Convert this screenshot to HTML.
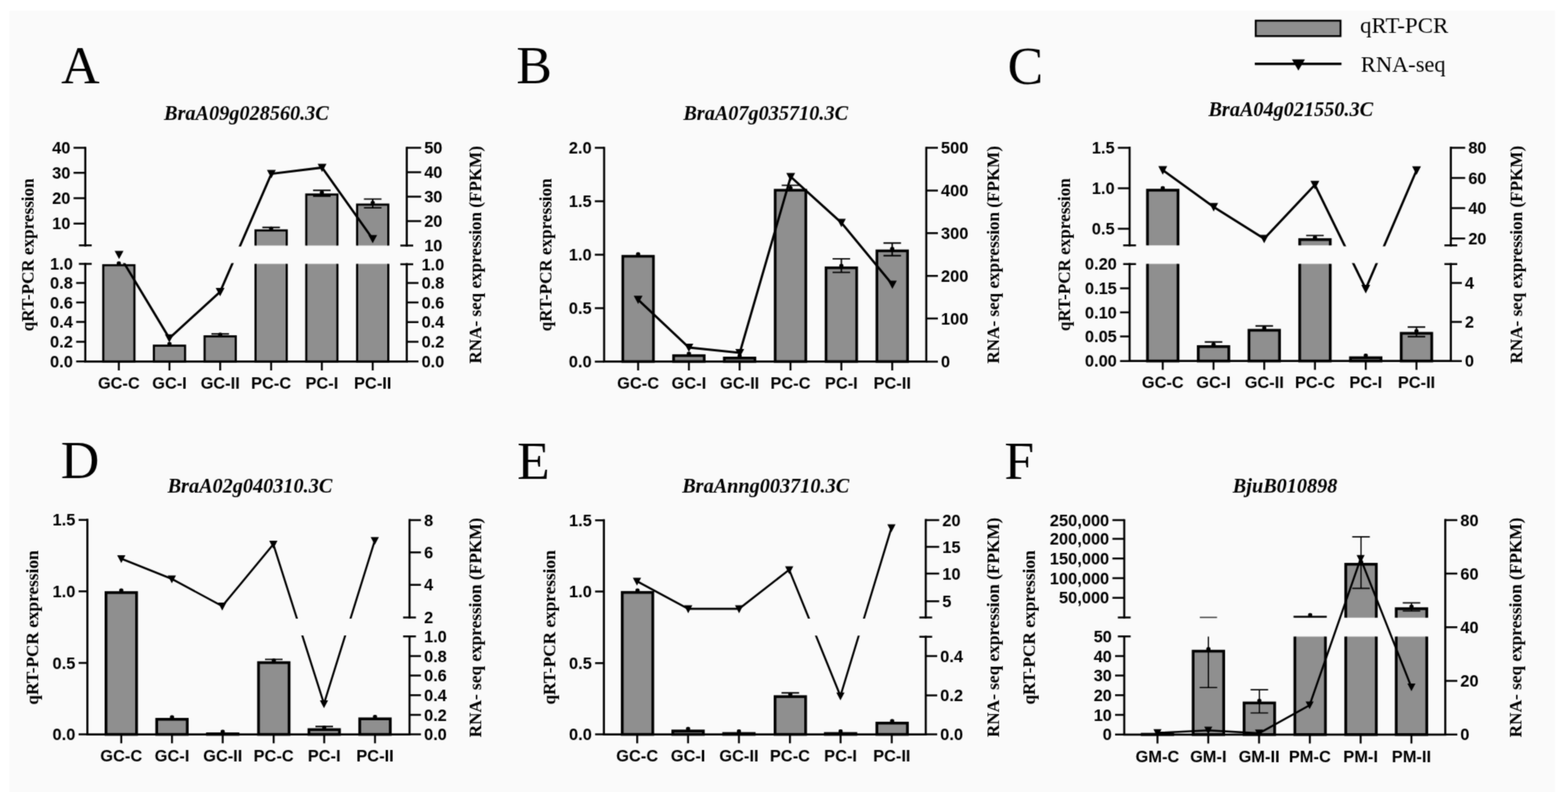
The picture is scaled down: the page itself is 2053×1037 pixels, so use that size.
<!DOCTYPE html><html><head><meta charset='utf-8'><title>Figure</title><style>html,body{margin:0;padding:0;background:#fff;overflow:hidden;}svg{display:block;}</style></head><body>
<div id='w'>
<svg width='2053' height='1037' viewBox='0 0 2053 1037'>
<defs><filter id='soft' x='0' y='0' width='2053' height='1037' filterUnits='userSpaceOnUse' color-interpolation-filters='sRGB'><feConvolveMatrix order='3' kernelMatrix='1 2 1 2 12 2 1 2 1' divisor='24' edgeMode='duplicate' preserveAlpha='true'/></filter></defs><g filter='url(#soft)'>
<rect x='0' y='0' width='2053' height='1037' fill='#fff'/>
<rect x='12.5' y='14' width='2023.5' height='1023' fill='#fafafa'/>
<clipPath id='b0'><rect x='0' y='0' width='2053' height='321.4'/><rect x='0' y='345.5' width='2053' height='691.5'/></clipPath>
<clipPath id='l0'><rect x='0' y='0' width='2053' height='322.7'/><rect x='0' y='344.4' width='2053' height='692.6'/></clipPath>
<g fill='#8f8f8f' stroke='#000' stroke-width='2.8' clip-path='url(#b0)'><rect x='135.2' y='347.2' width='40.8' height='126.1'/><rect x='201.5' y='452.6' width='40.8' height='20.7'/><rect x='267.9' y='440.4' width='40.8' height='32.9'/><rect x='334.6' y='301.7' width='40.8' height='171.6'/><rect x='401' y='254.7' width='40.8' height='218.6'/><rect x='467.6' y='267.9' width='40.8' height='205.4'/></g>
<path d='M276.8,437.3H299.8M288.3,437.3V440M343.5,297.8H366.5M355,297.8V302M409.9,249.3H432.9M409.9,256.8H432.9M421.4,249.3V256.8M476.5,260.6H499.5M476.5,272.1H499.5M488,260.6V272.1' fill='none' stroke='#000' stroke-width='1.9' clip-path='url(#b0)'/>
<g fill='#000'><rect x='152.9' y='342.3' width='5.4' height='5' rx='2'/><rect x='219.2' y='447.7' width='5.4' height='5' rx='2'/><rect x='285.6' y='435.5' width='5.4' height='5' rx='2'/><rect x='352.3' y='296.8' width='5.4' height='5' rx='2'/><rect x='418.7' y='249.8' width='5.4' height='5' rx='2'/><rect x='485.3' y='263' width='5.4' height='5' rx='2'/></g>
<path d='M111.7,193.6V321.3M111.7,345.6V473.3M532.6,193.6V321.6M532.6,345.9V473.3M111.7,473.3H532.6' fill='none' stroke='#000' stroke-width='2.7' stroke-linecap='square'/>
<path d='M103.3,321.3H120.1M103.3,345.6H120.1M524.2,321.6H541M524.2,345.9H541M96.3,193.6H111.7M96.3,226.3H111.7M96.3,259.5H111.7M96.3,292.7H111.7M99.7,370.5H111.7M99.7,396.1H111.7M99.7,421.6H111.7M99.7,447.4H111.7M99.7,473.3H111.7M532.6,193.6H551.4M532.6,225.5H551.4M532.6,257.5H551.4M532.6,289.4H551.4M532.6,370.4H547.9M532.6,396.1H547.9M532.6,421.7H547.9M532.6,447.4H547.9M532.6,473.3H547.9M155.6,473.3V484.9M221.9,473.3V484.9M288.3,473.3V484.9M355,473.3V484.9M421.4,473.3V484.9M488,473.3V484.9' fill='none' stroke='#000' stroke-width='2.5'/>
<path d='M155.9,333.5L221.7,442.8L288.2,382.1L355.3,227.6L421.7,219.4L488,312.8' fill='none' stroke='#000' stroke-width='3' stroke-linejoin='miter' clip-path='url(#l0)'/>
<path d='M150.1,328.5L161.7,328.5L155.9,339.3ZM215.9,437.8L227.5,437.8L221.7,448.6ZM282.4,377.1L294,377.1L288.2,387.9ZM349.5,222.6L361.1,222.6L355.3,233.4ZM415.9,214.4L427.5,214.4L421.7,225.2ZM482.2,307.8L493.8,307.8L488,318.6Z' fill='#000'/>
<g font-family="'Liberation Sans', Arial, sans-serif" font-weight='bold' font-size='21.5' fill='#000'><text transform='translate(92.1,201.2) scale(1,1.03)' text-anchor='end'>40</text><text transform='translate(92.1,233.9) scale(1,1.03)' text-anchor='end'>30</text><text transform='translate(92.1,267.1) scale(1,1.03)' text-anchor='end'>20</text><text transform='translate(92.1,300.3) scale(1,1.03)' text-anchor='end'>10</text><text transform='translate(95.5,353.2) scale(1,1.03)' text-anchor='end'>1.0</text><text transform='translate(95.5,378.1) scale(1,1.03)' text-anchor='end'>0.8</text><text transform='translate(95.5,403.7) scale(1,1.03)' text-anchor='end'>0.6</text><text transform='translate(95.5,429.2) scale(1,1.03)' text-anchor='end'>0.4</text><text transform='translate(95.5,455) scale(1,1.03)' text-anchor='end'>0.2</text><text transform='translate(95.5,480.9) scale(1,1.03)' text-anchor='end'>0.0</text><text transform='translate(555.4,201.2) scale(1,1.03)'>50</text><text transform='translate(555.4,233.1) scale(1,1.03)'>40</text><text transform='translate(555.4,265.1) scale(1,1.03)'>30</text><text transform='translate(555.4,297) scale(1,1.03)'>20</text><text transform='translate(555.4,329.2) scale(1,1.03)'>10</text><text transform='translate(551.9,353.5) scale(1,1.03)'>1.0</text><text transform='translate(551.9,378) scale(1,1.03)'>0.8</text><text transform='translate(551.9,403.7) scale(1,1.03)'>0.6</text><text transform='translate(551.9,429.3) scale(1,1.03)'>0.4</text><text transform='translate(551.9,455) scale(1,1.03)'>0.2</text><text transform='translate(551.9,480.9) scale(1,1.03)'>0.0</text></g>
<g font-family="'Liberation Sans', Arial, sans-serif" font-weight='bold' font-size='21.5' fill='#000'><text transform='translate(155.6,509) scale(1,1.03)' text-anchor='middle'>GC-C</text><text transform='translate(221.9,509) scale(1,1.03)' text-anchor='middle'>GC-I</text><text transform='translate(288.3,509) scale(1,1.03)' text-anchor='middle'>GC-II</text><text transform='translate(355,509) scale(1,1.03)' text-anchor='middle'>PC-C</text><text transform='translate(421.4,509) scale(1,1.03)' text-anchor='middle'>PC-I</text><text transform='translate(488,509) scale(1,1.03)' text-anchor='middle'>PC-II</text></g>
<text transform='translate(44.3,333.6) rotate(-90)' text-anchor='middle' font-family="'Liberation Serif', 'Times New Roman', serif" font-weight='bold' font-size='22.4'>qRT-PCR expression</text>
<text transform='translate(630,333.6) rotate(-90)' text-anchor='middle' font-family="'Liberation Serif', 'Times New Roman', serif" font-weight='bold' font-size='22.4'>RNA- seq expression (FPKM)</text>
<text x='322.7' y='157' text-anchor='middle' font-family="'Liberation Serif', 'Times New Roman', serif" font-weight='bold' font-style='italic' font-size='26.5'>BraA09g028560.3C</text>
<text x='80.1' y='109' font-family="'Liberation Serif', 'Times New Roman', serif" font-size='70'>A</text>
<g fill='#8f8f8f' stroke='#000' stroke-width='3.5'><rect x='815.45' y='335.55' width='40.1' height='137.85'/><rect x='881.95' y='465.65' width='40.1' height='7.75'/><rect x='948.35' y='468.75' width='40.1' height='4.65'/><rect x='1014.95' y='249.05' width='40.1' height='224.35'/><rect x='1081.55' y='350.65' width='40.1' height='122.75'/><rect x='1148.15' y='328.45' width='40.1' height='144.95'/></g>
<path d='M1023.5,242.6H1046.5M1035,242.6V248M1090.1,338.9H1113.1M1090.1,356.6H1113.1M1101.6,338.9V356.6M1156.7,318.2H1179.7M1156.7,334.7H1179.7M1168.2,318.2V334.7' fill='none' stroke='#000' stroke-width='1.9'/>
<g fill='#000'><rect x='832.8' y='330.3' width='5.4' height='5' rx='2'/><rect x='899.3' y='460.4' width='5.4' height='5' rx='2'/><rect x='965.7' y='463.5' width='5.4' height='5' rx='2'/><rect x='1032.3' y='243.8' width='5.4' height='5' rx='2'/><rect x='1098.9' y='345.4' width='5.4' height='5' rx='2'/><rect x='1165.5' y='323.2' width='5.4' height='5' rx='2'/></g>
<path d='M791,193.6V473.4M1212.8,193.6V473.4M791,473.4H1212.8' fill='none' stroke='#000' stroke-width='2.7' stroke-linecap='square'/>
<path d='M778.8,193.6H791M778.8,263.5H791M778.8,333.5H791M778.8,403.4H791M778.8,473.4H791M1212.8,193.6H1228M1212.8,249.4H1228M1212.8,305.3H1228M1212.8,361.2H1228M1212.8,417.1H1228M1212.8,473.4H1228M835.5,473.4V485M902,473.4V485M968.4,473.4V485M1035,473.4V485M1101.6,473.4V485M1168.2,473.4V485' fill='none' stroke='#000' stroke-width='2.5'/>
<path d='M835.5,392.3L902,455L968.6,462L1035.3,231.5L1101.6,291.6L1168.4,372.5' fill='none' stroke='#000' stroke-width='3' stroke-linejoin='miter'/>
<path d='M829.7,387.3L841.3,387.3L835.5,398.1ZM896.2,450L907.8,450L902,460.8ZM962.8,457L974.4,457L968.6,467.8ZM1029.5,226.5L1041.1,226.5L1035.3,237.3ZM1095.8,286.6L1107.4,286.6L1101.6,297.4ZM1162.6,367.5L1174.2,367.5L1168.4,378.3Z' fill='#000'/>
<g font-family="'Liberation Sans', Arial, sans-serif" font-weight='bold' font-size='21.5' fill='#000'><text transform='translate(774.6,201.2) scale(1,1.03)' text-anchor='end'>2.0</text><text transform='translate(774.6,271.1) scale(1,1.03)' text-anchor='end'>1.5</text><text transform='translate(774.6,341.1) scale(1,1.03)' text-anchor='end'>1.0</text><text transform='translate(774.6,411) scale(1,1.03)' text-anchor='end'>0.5</text><text transform='translate(774.6,481) scale(1,1.03)' text-anchor='end'>0.0</text><text transform='translate(1232,201.2) scale(1,1.03)'>500</text><text transform='translate(1232,257) scale(1,1.03)'>400</text><text transform='translate(1232,312.9) scale(1,1.03)'>300</text><text transform='translate(1232,368.8) scale(1,1.03)'>200</text><text transform='translate(1232,424.7) scale(1,1.03)'>100</text><text transform='translate(1232,481) scale(1,1.03)'>0</text></g>
<g font-family="'Liberation Sans', Arial, sans-serif" font-weight='bold' font-size='21.5' fill='#000'><text transform='translate(835.5,509.1) scale(1,1.03)' text-anchor='middle'>GC-C</text><text transform='translate(902,509.1) scale(1,1.03)' text-anchor='middle'>GC-I</text><text transform='translate(968.4,509.1) scale(1,1.03)' text-anchor='middle'>GC-II</text><text transform='translate(1035,509.1) scale(1,1.03)' text-anchor='middle'>PC-C</text><text transform='translate(1101.6,509.1) scale(1,1.03)' text-anchor='middle'>PC-I</text><text transform='translate(1168.2,509.1) scale(1,1.03)' text-anchor='middle'>PC-II</text></g>
<text transform='translate(722.3,333.6) rotate(-90)' text-anchor='middle' font-family="'Liberation Serif', 'Times New Roman', serif" font-weight='bold' font-size='22.4'>qRT-PCR expression</text>
<text transform='translate(1308.2,333.6) rotate(-90)' text-anchor='middle' font-family="'Liberation Serif', 'Times New Roman', serif" font-weight='bold' font-size='22.4'>RNA- seq expression (FPKM)</text>
<text x='1002.5' y='156.5' text-anchor='middle' font-family="'Liberation Serif', 'Times New Roman', serif" font-weight='bold' font-style='italic' font-size='26.5'>BraA07g035710.3C</text>
<text x='676' y='108.5' font-family="'Liberation Serif', 'Times New Roman', serif" font-size='70'>B</text>
<clipPath id='b2'><rect x='0' y='0' width='2053' height='321.3'/><rect x='0' y='345.6' width='2053' height='691.4'/></clipPath>
<clipPath id='l2'><rect x='0' y='0' width='2053' height='322.6'/><rect x='0' y='344.5' width='2053' height='692.5'/></clipPath>
<g fill='#8f8f8f' stroke='#000' stroke-width='3.6' clip-path='url(#b2)'><rect x='1502.4' y='249' width='40' height='223.7'/><rect x='1568.9' y='453.8' width='40' height='18.9'/><rect x='1635.3' y='432.4' width='40' height='40.3'/><rect x='1701.7' y='313.7' width='40' height='159'/><rect x='1768.2' y='468.4' width='40' height='4.3'/><rect x='1834.6' y='436.4' width='40' height='36.3'/></g>
<path d='M1577.4,447.8H1600.4M1588.9,447.8V453M1643.8,426.8H1666.8M1655.3,426.8V431M1710.2,308.4H1733.2M1721.7,308.4V313M1843.1,428.2H1866.1M1843.1,440.7H1866.1M1854.6,428.2V440.7' fill='none' stroke='#000' stroke-width='1.9' clip-path='url(#b2)'/>
<g fill='#000'><rect x='1519.7' y='243.7' width='5.4' height='5' rx='2'/><rect x='1586.2' y='448.5' width='5.4' height='5' rx='2'/><rect x='1652.6' y='427.1' width='5.4' height='5' rx='2'/><rect x='1719' y='308.4' width='5.4' height='5' rx='2'/><rect x='1785.5' y='463.1' width='5.4' height='5' rx='2'/><rect x='1851.9' y='431.1' width='5.4' height='5' rx='2'/></g>
<path d='M1479,193.4V321.2M1479,345.8V472.7M1899.6,193.4V321.2M1899.6,345.8V472.7M1479,472.7H1899.6' fill='none' stroke='#000' stroke-width='2.7' stroke-linecap='square'/>
<path d='M1470.6,321.2H1487.4M1470.6,345.8H1487.4M1891.2,321.2H1908M1891.2,345.8H1908M1463.6,193.4H1479M1463.6,246.6H1479M1463.6,299.5H1479M1466.5,377.4H1479M1466.5,409H1479M1466.5,440.6H1479M1466.5,472.7H1479M1899.6,193.4H1918.4M1899.6,233H1918.4M1899.6,272.6H1918.4M1899.6,312.2H1918.4M1899.6,370.6H1914M1899.6,421.6H1914M1899.6,472.7H1914M1522.4,472.7V484.3M1588.9,472.7V484.3M1655.3,472.7V484.3M1721.7,472.7V484.3M1788.2,472.7V484.3M1854.6,472.7V484.3' fill='none' stroke='#000' stroke-width='2.5'/>
<path d='M1522.4,222.8L1589.1,270.9L1655.2,312.6L1721.6,242L1788.2,378.2L1854.7,223' fill='none' stroke='#000' stroke-width='3' stroke-linejoin='miter' clip-path='url(#l2)'/>
<path d='M1516.6,217.6L1528.2,217.6L1522.4,228.8ZM1583.3,265.7L1594.9,265.7L1589.1,276.9ZM1649.4,307.4L1661,307.4L1655.2,318.6ZM1715.8,236.8L1727.4,236.8L1721.6,248ZM1782.4,373L1794,373L1788.2,384.2ZM1848.9,217.8L1860.5,217.8L1854.7,229Z' fill='#000'/>
<g font-family="'Liberation Sans', Arial, sans-serif" font-weight='bold' font-size='21.5' fill='#000'><text transform='translate(1459.4,201) scale(1,1.03)' text-anchor='end'>1.5</text><text transform='translate(1459.4,254.2) scale(1,1.03)' text-anchor='end'>1.0</text><text transform='translate(1459.4,307.1) scale(1,1.03)' text-anchor='end'>0.5</text><text transform='translate(1462.3,353.4) scale(1,1.03)' text-anchor='end'>0.20</text><text transform='translate(1462.3,385) scale(1,1.03)' text-anchor='end'>0.15</text><text transform='translate(1462.3,416.6) scale(1,1.03)' text-anchor='end'>0.10</text><text transform='translate(1462.3,448.2) scale(1,1.03)' text-anchor='end'>0.05</text><text transform='translate(1462.3,480.3) scale(1,1.03)' text-anchor='end'>0.00</text><text transform='translate(1922.4,201) scale(1,1.03)'>80</text><text transform='translate(1922.4,240.6) scale(1,1.03)'>60</text><text transform='translate(1922.4,280.2) scale(1,1.03)'>40</text><text transform='translate(1922.4,319.8) scale(1,1.03)'>20</text><text transform='translate(1918,378.2) scale(1,1.03)'>4</text><text transform='translate(1918,429.2) scale(1,1.03)'>2</text><text transform='translate(1918,480.3) scale(1,1.03)'>0</text></g>
<g font-family="'Liberation Sans', Arial, sans-serif" font-weight='bold' font-size='21.5' fill='#000'><text transform='translate(1522.4,508.4) scale(1,1.03)' text-anchor='middle'>GC-C</text><text transform='translate(1588.9,508.4) scale(1,1.03)' text-anchor='middle'>GC-I</text><text transform='translate(1655.3,508.4) scale(1,1.03)' text-anchor='middle'>GC-II</text><text transform='translate(1721.7,508.4) scale(1,1.03)' text-anchor='middle'>PC-C</text><text transform='translate(1788.2,508.4) scale(1,1.03)' text-anchor='middle'>PC-I</text><text transform='translate(1854.6,508.4) scale(1,1.03)' text-anchor='middle'>PC-II</text></g>
<text transform='translate(1400.6,333.4) rotate(-90)' text-anchor='middle' font-family="'Liberation Serif', 'Times New Roman', serif" font-weight='bold' font-size='22.4'>qRT-PCR expression</text>
<text transform='translate(1993,333.4) rotate(-90)' text-anchor='middle' font-family="'Liberation Serif', 'Times New Roman', serif" font-weight='bold' font-size='22.4'>RNA- seq expression (FPKM)</text>
<text x='1690' y='151.6' text-anchor='middle' font-family="'Liberation Serif', 'Times New Roman', serif" font-weight='bold' font-style='italic' font-size='26.5'>BraA04g021550.3C</text>
<text x='1319.2' y='109.5' font-family="'Liberation Serif', 'Times New Roman', serif" font-size='70'>C</text>
<clipPath id='l3'><rect x='0' y='0' width='2053' height='810'/><rect x='0' y='832' width='2053' height='205'/></clipPath>
<g fill='#8f8f8f' stroke='#000' stroke-width='3.6'><rect x='138.8' y='775.9' width='40' height='185.7'/><rect x='205.2' y='941.8' width='40' height='19.8'/><rect x='271.6' y='960.8' width='40' height='0.8'/><rect x='338.5' y='867.6' width='40' height='94'/><rect x='404.5' y='955.3' width='40' height='6.3'/><rect x='471' y='941.2' width='40' height='20.4'/></g>
<path d='M158.8,771.4V776M225.2,937.2V941M291.6,957V960M347,863.4H370M358.5,863.4V867M413,951.2H436M424.5,951.2V955' fill='none' stroke='#000' stroke-width='1.9'/>
<g fill='#000'><rect x='156.1' y='770.6' width='5.4' height='5' rx='2'/><rect x='222.5' y='936.5' width='5.4' height='5' rx='2'/><rect x='288.9' y='955.5' width='5.4' height='5' rx='2'/><rect x='355.8' y='862.3' width='5.4' height='5' rx='2'/><rect x='421.8' y='950' width='5.4' height='5' rx='2'/><rect x='488.3' y='935.9' width='5.4' height='5' rx='2'/></g>
<path d='M114.4,680.7V961.6M536.2,680.9V808.4M536.2,833.3V961.6M114.4,961.6H536.2' fill='none' stroke='#000' stroke-width='2.7' stroke-linecap='square'/>
<path d='M527.8,808.4H544.6M527.8,833.3H544.6M102.9,680.7H114.4M102.9,774.3H114.4M102.9,868H114.4M102.9,961.6H114.4M536.2,680.9H551.2M536.2,723.3H551.2M536.2,765.7H551.2M536.2,858.9H551.2M536.2,884.6H551.2M536.2,910.3H551.2M536.2,935.9H551.2M536.2,961.6H551.2M158.8,961.6V973.2M225.2,961.6V973.2M291.6,961.6V973.2M358.3,961.6V973.2M424.5,961.6V973.2M491,961.6V973.2' fill='none' stroke='#000' stroke-width='2.5'/>
<path d='M158.8,731.5L225,758L291,793.7L357.9,712.7L424.2,921.5L490.7,707.8' fill='none' stroke='#000' stroke-width='2.6' stroke-linejoin='miter' clip-path='url(#l3)'/>
<path d='M153.4,726.9L164.2,726.9L158.8,737.3ZM219.6,753.4L230.4,753.4L225,763.8ZM285.6,789.1L296.4,789.1L291,799.5ZM352.5,708.1L363.3,708.1L357.9,718.5ZM418.8,916.9L429.6,916.9L424.2,927.3ZM485.3,703.2L496.1,703.2L490.7,713.6Z' fill='#000'/>
<g font-family="'Liberation Sans', Arial, sans-serif" font-weight='bold' font-size='21.5' fill='#000'><text transform='translate(98.7,688.3) scale(1,1.03)' text-anchor='end'>1.5</text><text transform='translate(98.7,781.9) scale(1,1.03)' text-anchor='end'>1.0</text><text transform='translate(98.7,875.6) scale(1,1.03)' text-anchor='end'>0.5</text><text transform='translate(98.7,969.2) scale(1,1.03)' text-anchor='end'>0.0</text><text transform='translate(555.2,688.5) scale(1,1.03)'>8</text><text transform='translate(555.2,730.9) scale(1,1.03)'>6</text><text transform='translate(555.2,773.3) scale(1,1.03)'>4</text><text transform='translate(555.2,816) scale(1,1.03)'>2</text><text transform='translate(555.2,840.9) scale(1,1.03)'>1.0</text><text transform='translate(555.2,866.5) scale(1,1.03)'>0.8</text><text transform='translate(555.2,892.2) scale(1,1.03)'>0.6</text><text transform='translate(555.2,917.9) scale(1,1.03)'>0.4</text><text transform='translate(555.2,943.5) scale(1,1.03)'>0.2</text><text transform='translate(555.2,969.2) scale(1,1.03)'>0.0</text></g>
<g font-family="'Liberation Sans', Arial, sans-serif" font-weight='bold' font-size='21.5' fill='#000'><text transform='translate(158.8,997.3) scale(1,1.03)' text-anchor='middle'>GC-C</text><text transform='translate(225.2,997.3) scale(1,1.03)' text-anchor='middle'>GC-I</text><text transform='translate(291.6,997.3) scale(1,1.03)' text-anchor='middle'>GC-II</text><text transform='translate(358.3,997.3) scale(1,1.03)' text-anchor='middle'>PC-C</text><text transform='translate(424.5,997.3) scale(1,1.03)' text-anchor='middle'>PC-I</text><text transform='translate(491,997.3) scale(1,1.03)' text-anchor='middle'>PC-II</text></g>
<text transform='translate(49.8,821.7) rotate(-90)' text-anchor='middle' font-family="'Liberation Serif', 'Times New Roman', serif" font-weight='bold' font-size='22.6'>qRT-PCR expression</text>
<text transform='translate(629.8,821.7) rotate(-90)' text-anchor='middle' font-family="'Liberation Serif', 'Times New Roman', serif" font-weight='bold' font-size='22.6'>RNA- seq expression (FPKM)</text>
<text x='327.3' y='644.8' text-anchor='middle' font-family="'Liberation Serif', 'Times New Roman', serif" font-weight='bold' font-style='italic' font-size='26.5'>BraA02g040310.3C</text>
<text x='79.6' y='626.3' font-family="'Liberation Serif', 'Times New Roman', serif" font-size='70'>D</text>
<clipPath id='l4'><rect x='0' y='0' width='2053' height='810.1'/><rect x='0' y='832.2' width='2053' height='204.8'/></clipPath>
<g fill='#8f8f8f' stroke='#000' stroke-width='3.6'><rect x='814.7' y='775.7' width='40' height='185.9'/><rect x='880.9' y='957.1' width='40' height='4.5'/><rect x='947.5' y='960.4' width='40' height='1.2'/><rect x='1014.8' y='912.1' width='40' height='49.5'/><rect x='1080.6' y='960.4' width='40' height='1.2'/><rect x='1148.1' y='946.8' width='40' height='14.8'/></g>
<path d='M1023.3,907.2H1046.3M1034.8,907.2V911' fill='none' stroke='#000' stroke-width='1.9'/>
<g fill='#000'><rect x='832' y='770.4' width='5.4' height='5' rx='2'/><rect x='898.2' y='951.8' width='5.4' height='5' rx='2'/><rect x='964.8' y='955.1' width='5.4' height='5' rx='2'/><rect x='1032.1' y='906.8' width='5.4' height='5' rx='2'/><rect x='1097.9' y='955.1' width='5.4' height='5' rx='2'/><rect x='1165.4' y='941.5' width='5.4' height='5' rx='2'/></g>
<path d='M790.7,681.2V961.6M1212.1,680.9V808.4M1212.1,833.8V961.6M790.7,961.6H1212.1' fill='none' stroke='#000' stroke-width='2.7' stroke-linecap='square'/>
<path d='M1203.7,808.4H1220.5M1203.7,833.8H1220.5M779.2,681.2H790.7M779.2,774.6H790.7M779.2,868.2H790.7M779.2,961.6H790.7M1212.1,680.9H1229.7M1212.1,715.9H1229.7M1212.1,751.1H1229.7M1212.1,787.3H1229.7M1212.1,859.1H1227.1M1212.1,910.5H1227.1M1212.1,961.6H1227.1M834.3,961.6V973.2M900.9,961.6V973.2M967.5,961.6V973.2M1034.3,961.6V973.2M1100.6,961.6V973.2M1167.6,961.6V973.2' fill='none' stroke='#000' stroke-width='2.5'/>
<path d='M834,761L901.1,797.1L967.7,797.1L1033.3,746L1100.4,911.3L1167.2,691' fill='none' stroke='#000' stroke-width='2.6' stroke-linejoin='miter' clip-path='url(#l4)'/>
<path d='M828.6,756.4L839.4,756.4L834,766.8ZM895.7,792.5L906.5,792.5L901.1,802.9ZM962.3,792.5L973.1,792.5L967.7,802.9ZM1027.9,741.4L1038.7,741.4L1033.3,751.8ZM1095,906.7L1105.8,906.7L1100.4,917.1ZM1161.8,686.4L1172.6,686.4L1167.2,696.8Z' fill='#000'/>
<g font-family="'Liberation Sans', Arial, sans-serif" font-weight='bold' font-size='21.5' fill='#000'><text transform='translate(775,688.8) scale(1,1.03)' text-anchor='end'>1.5</text><text transform='translate(775,782.2) scale(1,1.03)' text-anchor='end'>1.0</text><text transform='translate(775,875.8) scale(1,1.03)' text-anchor='end'>0.5</text><text transform='translate(775,969.2) scale(1,1.03)' text-anchor='end'>0.0</text><text transform='translate(1233.7,688.5) scale(1,1.03)'>20</text><text transform='translate(1233.7,723.5) scale(1,1.03)'>15</text><text transform='translate(1233.7,758.7) scale(1,1.03)'>10</text><text transform='translate(1233.7,794.9) scale(1,1.03)'>5</text><text transform='translate(1231.1,866.7) scale(1,1.03)'>0.4</text><text transform='translate(1231.1,918.1) scale(1,1.03)'>0.2</text><text transform='translate(1231.1,969.2) scale(1,1.03)'>0.0</text></g>
<g font-family="'Liberation Sans', Arial, sans-serif" font-weight='bold' font-size='21.5' fill='#000'><text transform='translate(834.3,997.3) scale(1,1.03)' text-anchor='middle'>GC-C</text><text transform='translate(900.9,997.3) scale(1,1.03)' text-anchor='middle'>GC-I</text><text transform='translate(967.5,997.3) scale(1,1.03)' text-anchor='middle'>GC-II</text><text transform='translate(1034.3,997.3) scale(1,1.03)' text-anchor='middle'>PC-C</text><text transform='translate(1100.6,997.3) scale(1,1.03)' text-anchor='middle'>PC-I</text><text transform='translate(1167.6,997.3) scale(1,1.03)' text-anchor='middle'>PC-II</text></g>
<text transform='translate(726.8,821.5) rotate(-90)' text-anchor='middle' font-family="'Liberation Serif', 'Times New Roman', serif" font-weight='bold' font-size='22.6'>qRT-PCR expression</text>
<text transform='translate(1308.4,821.5) rotate(-90)' text-anchor='middle' font-family="'Liberation Serif', 'Times New Roman', serif" font-weight='bold' font-size='22.6'>RNA- seq expression (FPKM)</text>
<text x='1002.5' y='644.8' text-anchor='middle' font-family="'Liberation Serif', 'Times New Roman', serif" font-weight='bold' font-style='italic' font-size='26.5'>BraAnng003710.3C</text>
<text x='677' y='627' font-family="'Liberation Serif', 'Times New Roman', serif" font-size='70'>E</text>
<clipPath id='b5'><rect x='0' y='0' width='2053' height='808.7'/><rect x='0' y='833.4' width='2053' height='203.6'/></clipPath>
<g fill='#8f8f8f' stroke='#000' stroke-width='3.6' clip-path='url(#b5)'><rect x='1495.5' y='961.4' width='40' height='0.4'/><rect x='1562.2' y='852.6' width='40' height='109.2'/><rect x='1628.9' y='920.4' width='40' height='41.4'/><rect x='1695.4' y='808.1' width='40' height='153.7'/><rect x='1762' y='738.8' width='40' height='223'/><rect x='1828.1' y='797' width='40' height='164.8'/></g>
<path d='M1570.7,900.2H1593.7M1582.2,820V900.2M1637.4,903.1H1660.4M1637.4,933.5H1660.4M1648.9,903.1V933.5M1715.4,803.5V808M1770.5,702.9H1793.5M1770.5,770.4H1793.5M1782,702.9V770.4M1836.6,789.4H1859.6M1836.6,800H1859.6M1848.1,789.4V800' fill='none' stroke='#000' stroke-width='1.6' clip-path='url(#b5)'/>
<g fill='#000'><rect x='1512.8' y='956.1' width='5.4' height='5' rx='2'/><rect x='1579.5' y='847.3' width='5.4' height='5' rx='2'/><rect x='1646.2' y='915.1' width='5.4' height='5' rx='2'/><rect x='1712.7' y='802.8' width='5.4' height='5' rx='2'/><rect x='1779.3' y='733.5' width='5.4' height='5' rx='2'/><rect x='1845.4' y='791.7' width='5.4' height='5' rx='2'/></g>
<path d='M1570.9,808.4H1593.5' stroke='#333' stroke-width='1.6'/>
<path d='M1472,681.1V808.5M1472,833.3V961.8M1892.3,680.9V961.8M1472,961.8H1892.3' fill='none' stroke='#000' stroke-width='2.7' stroke-linecap='square'/>
<path d='M1463.6,808.5H1480.4M1463.6,833.3H1480.4M1456.5,681.1H1472M1456.5,705.5H1472M1456.5,731.3H1472M1456.5,757H1472M1456.5,782.8H1472M1460,858.9H1472M1460,884.6H1472M1460,910.3H1472M1460,936H1472M1460,961.8H1472M1892.3,680.9H1908.1M1892.3,751.1H1908.1M1892.3,821.3H1908.1M1892.3,891.6H1908.1M1892.3,961.8H1908.1M1515.5,961.8V973.4M1582,961.8V973.4M1648.5,961.8V973.4M1715,961.8V973.4M1781.5,961.8V973.4M1848,961.8V973.4' fill='none' stroke='#000' stroke-width='2.5'/>
<path d='M1515.5,959.6L1582,956.3L1648.5,960.1L1714.7,923.3L1781.5,731.6L1848,899.7' fill='none' stroke='#000' stroke-width='2.6' stroke-linejoin='miter'/>
<path d='M1510.2,954.8L1520.8,954.8L1515.5,964.9ZM1576.7,951.5L1587.3,951.5L1582,961.6ZM1643.2,955.3L1653.8,955.3L1648.5,965.4ZM1709.4,918.5L1720,918.5L1714.7,928.6ZM1776.2,726.8L1786.8,726.8L1781.5,736.9ZM1842.7,894.9L1853.3,894.9L1848,905Z' fill='#000'/>
<g font-family="'Liberation Sans', Arial, sans-serif" font-weight='bold' font-size='21.5' fill='#000'><text transform='translate(1452.3,688.7) scale(1,1.03)' text-anchor='end'>250,000</text><text transform='translate(1452.3,713.1) scale(1,1.03)' text-anchor='end'>200,000</text><text transform='translate(1452.3,738.9) scale(1,1.03)' text-anchor='end'>150,000</text><text transform='translate(1452.3,764.6) scale(1,1.03)' text-anchor='end'>100,000</text><text transform='translate(1452.3,790.4) scale(1,1.03)' text-anchor='end'>50,000</text><text transform='translate(1455.8,840.9) scale(1,1.03)' text-anchor='end'>50</text><text transform='translate(1455.8,866.5) scale(1,1.03)' text-anchor='end'>40</text><text transform='translate(1455.8,892.2) scale(1,1.03)' text-anchor='end'>30</text><text transform='translate(1455.8,917.9) scale(1,1.03)' text-anchor='end'>20</text><text transform='translate(1455.8,943.6) scale(1,1.03)' text-anchor='end'>10</text><text transform='translate(1455.8,969.4) scale(1,1.03)' text-anchor='end'>0</text><text transform='translate(1912.1,688.5) scale(1,1.03)'>80</text><text transform='translate(1912.1,758.7) scale(1,1.03)'>60</text><text transform='translate(1912.1,828.9) scale(1,1.03)'>40</text><text transform='translate(1912.1,899.2) scale(1,1.03)'>20</text><text transform='translate(1912.1,969.4) scale(1,1.03)'>0</text></g>
<g font-family="'Liberation Sans', Arial, sans-serif" font-weight='bold' font-size='21.5' fill='#000'><text transform='translate(1515.5,997.5) scale(1,1.03)' text-anchor='middle'>GM-C</text><text transform='translate(1582,997.5) scale(1,1.03)' text-anchor='middle'>GM-I</text><text transform='translate(1648.5,997.5) scale(1,1.03)' text-anchor='middle'>GM-II</text><text transform='translate(1715,997.5) scale(1,1.03)' text-anchor='middle'>PM-C</text><text transform='translate(1781.5,997.5) scale(1,1.03)' text-anchor='middle'>PM-I</text><text transform='translate(1848,997.5) scale(1,1.03)' text-anchor='middle'>PM-II</text></g>
<text transform='translate(1355.1,821.65) rotate(-90)' text-anchor='middle' font-family="'Liberation Serif', 'Times New Roman', serif" font-weight='bold' font-size='22.6'>qRT-PCR expression</text>
<text transform='translate(1992.1,821.65) rotate(-90)' text-anchor='middle' font-family="'Liberation Serif', 'Times New Roman', serif" font-weight='bold' font-size='22.6'>RNA- seq expression (FPKM)</text>
<text x='1682.6' y='644.6' text-anchor='middle' font-family="'Liberation Serif', 'Times New Roman', serif" font-weight='bold' font-style='italic' font-size='26.5'>BjuB010898</text>
<text x='1315' y='627' font-family="'Liberation Serif', 'Times New Roman', serif" font-size='70'>F</text>
<rect x='1644.15' y='27.05' width='111' height='20.2' fill='#8f8f8f' stroke='#000' stroke-width='2.5'/><path d='M1642.9,83.6H1756.4' stroke='#000' stroke-width='3.1'/><path d='M1691.5,77.8L1708.6,77.8L1700,92.5Z' fill='#000'/><text x='1780.7' y='43.2' font-family="'Liberation Serif', 'Times New Roman', serif" font-size='30'>qRT-PCR</text><text x='1781.8' y='93.9' font-family="'Liberation Serif', 'Times New Roman', serif" font-size='29.4'>RNA-seq</text>
</g></svg></div></body></html>
